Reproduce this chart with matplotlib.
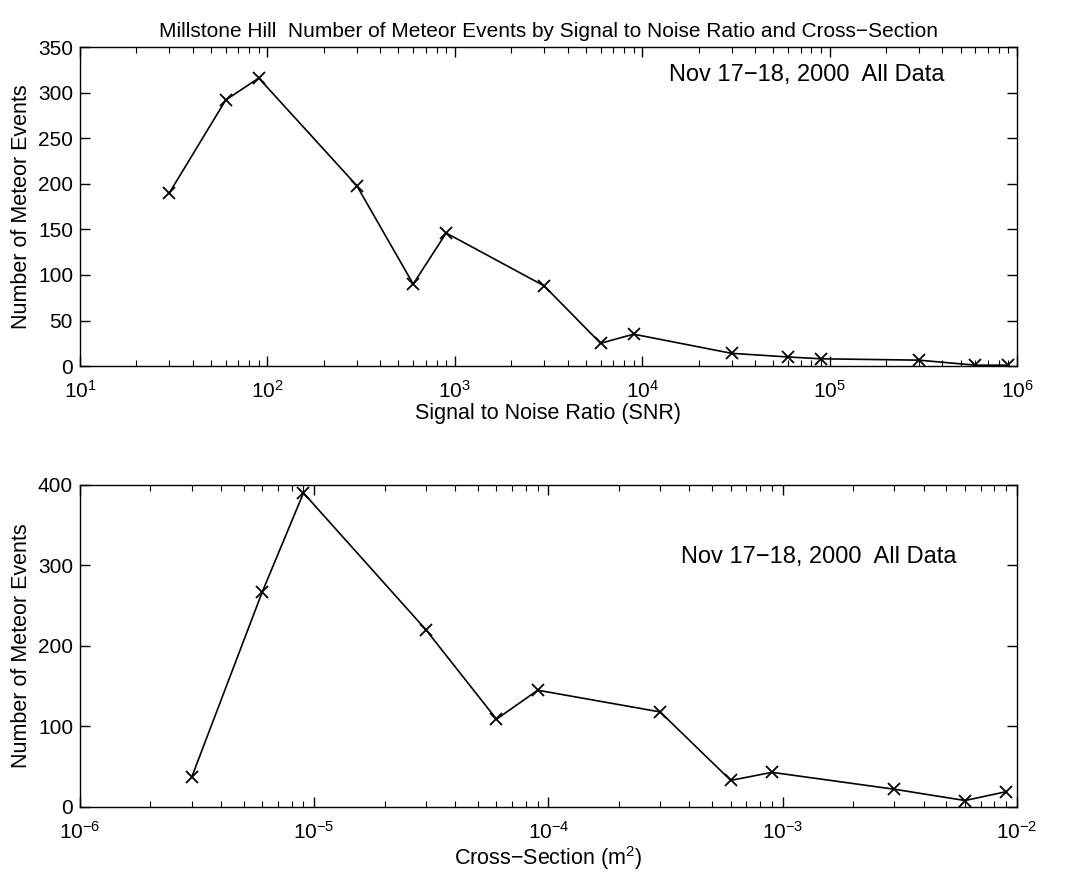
import numpy as np
import matplotlib
matplotlib.use('Agg')
import matplotlib.pyplot as plt
from matplotlib.ticker import LogLocator, NullFormatter

plt.rcParams['font.family'] = ['Liberation Sans', 'DejaVu Sans']
plt.rcParams['mathtext.fontset'] = 'custom'
plt.rcParams['mathtext.rm'] = 'Liberation Sans'
plt.rcParams['mathtext.it'] = 'Liberation Sans:italic'
plt.rcParams['xtick.direction'] = 'in'
plt.rcParams['ytick.direction'] = 'in'
plt.rcParams['xtick.top'] = True
plt.rcParams['ytick.right'] = True

# top panel: events by signal to noise ratio
snr = [30, 60, 90, 300, 600, 900, 3e3, 6e3, 9e3, 3e4, 6e4, 9e4, 3e5, 6e5, 9e5]
snr_counts = [190, 292, 316, 198, 90, 146, 88, 25, 35, 14, 10, 8, 6.5, 1, 1]

# bottom panel: events by cross-section
xsec = [3e-6, 6e-6, 9e-6, 3e-5, 6e-5, 9e-5, 3e-4, 6e-4, 9e-4, 3e-3, 6e-3, 9e-3]
xsec_counts = [37, 267, 390, 220, 109, 145, 118, 33, 43, 22, 8, 19]

label = 'Nov 17\u221218, 2000  All Data'

fig = plt.figure(figsize=(10.66, 8.8), dpi=100)
ax1 = fig.add_axes([0.075, 0.584, 0.879, 0.3625])
ax2 = fig.add_axes([0.075, 0.083, 0.879, 0.366])

def style(ax):
    ax.set_xscale('log')
    ax.xaxis.set_minor_locator(LogLocator(base=10, subs=np.arange(2, 10)))
    ax.xaxis.set_minor_formatter(NullFormatter())
    ax.tick_params(which='major', length=7, width=1, labelsize=15, pad=5)
    ax.tick_params(axis='x', which='major', pad=10)
    ax.tick_params(which='minor', length=4, width=0.8)
    for s in ax.spines.values():
        s.set_linewidth(1)

ax1.plot(snr, snr_counts, color='black', lw=1.2, marker='x', ms=8, mew=1.3)
style(ax1)
ax1.set_xlim(1e1, 1e6)
ax1.set_ylim(0, 350)
ax1.set_yticks(np.arange(0, 351, 50))
ax1.set_xlabel('Signal to Noise Ratio (SNR)', fontsize=15.5, labelpad=1)
ax1.set_ylabel('Number of Meteor Events', fontsize=15.5, labelpad=4)
ax1.set_title('Millstone Hill  Number of Meteor Events by Signal to Noise Ratio and Cross\u2212Section',
              fontsize=15, pad=7)
ax1.text(0.923, 0.912, label, transform=ax1.transAxes, ha='right', va='center', fontsize=17)

ax2.plot(xsec, xsec_counts, color='black', lw=1.2, marker='x', ms=8, mew=1.3)
style(ax2)
ax2.set_xlim(1e-6, 1e-2)
ax2.set_ylim(0, 400)
ax2.set_yticks(np.arange(0, 401, 100))
ax2.set_xlabel('Cross\u2212Section (m$^2$)', fontsize=15.5, labelpad=1)
ax2.set_ylabel('Number of Meteor Events', fontsize=15.5, labelpad=4)
ax2.text(0.935, 0.776, label, transform=ax2.transAxes, ha='right', va='center', fontsize=17)

fig.savefig('out.png', dpi=100)
